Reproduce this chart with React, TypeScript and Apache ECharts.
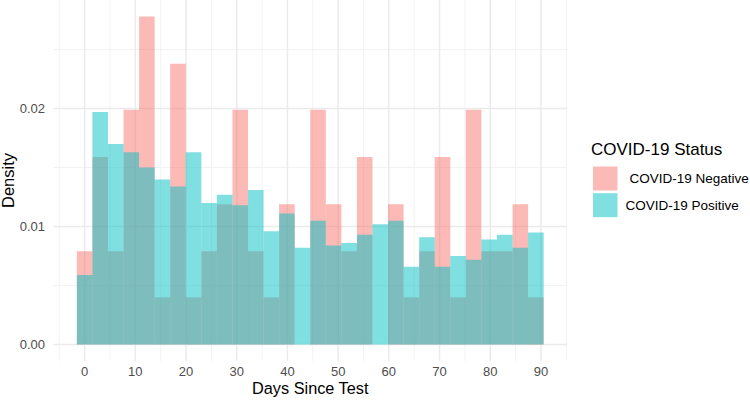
import React, { useEffect, useRef } from "react";
import * as echarts from "echarts";

// Histogram bin centres (days) and the common bin width
const binCenters = [
  0, 3.07, 6.14, 9.21, 12.28, 15.34, 18.41, 21.48, 24.55, 27.62,
  30.69, 33.76, 36.83, 39.9, 42.97, 46.03, 49.1, 52.17, 55.24, 58.31,
  61.38, 64.45, 67.52, 70.59, 73.66, 76.72, 79.79, 82.86, 85.93, 89,
];
const binWidth = 3.069;

// Density per bin for each test result
const negativeDensity = [
  0.0079, 0.0159, 0.0079, 0.0199, 0.0278, 0.004, 0.0238, 0.004, 0.0079, 0.0119,
  0.0199, 0.0079, 0.004, 0.0119, 0, 0.0199, 0.0119, 0.0079, 0.0159, 0,
  0.0119, 0.004, 0.0079, 0.0159, 0.004, 0.0199, 0.0079, 0.0079, 0.0119, 0.004,
];
const positiveDensity = [
  0.0059, 0.0197, 0.017, 0.0163, 0.015, 0.014, 0.0134, 0.0163, 0.012, 0.0127,
  0.0118, 0.0131, 0.0096, 0.0111, 0.0082, 0.0105, 0.0084, 0.0086, 0.0093, 0.0102,
  0.0105, 0.0066, 0.0091, 0.0066, 0.0075, 0.0072, 0.0089, 0.0093, 0.0082, 0.0095,
];

// Axis breaks
const xTicks = [0, 10, 20, 30, 40, 50, 60, 70, 80, 90];
const xMinorBreaks = [-5, 5, 15, 25, 35, 45, 55, 65, 75, 85, 95];
const yTicks = [0, 0.01, 0.02];
const yMinorBreaks = [0.005, 0.015, 0.025];

const xMin = -6.14;
const xMax = 95.14;
const yMin = -0.00139;
const yMax = 0.0292;

const FONT = "'Liberation Sans', Arial, Helvetica, sans-serif";
const NEG_FILL = "rgba(248,118,109,0.5)";
const POS_FILL = "rgba(0,191,196,0.5)";

function histItem(color: string) {
  return (params: any, api: any) => {
    const c = api.value(0);
    const v = api.value(1);
    const p0 = api.coord([c - binWidth / 2, v]);
    const p1 = api.coord([c + binWidth / 2, 0]);
    return {
      type: "rect",
      shape: { x: p0[0], y: p0[1], width: p1[0] - p0[0], height: p1[1] - p0[1] },
      style: { fill: color },
    };
  };
}

export default function App() {
  const ref = useRef<HTMLDivElement>(null);

  useEffect(() => {
    if (!ref.current) return;
    const chart = echarts.init(ref.current, null, { renderer: "svg" });

    // grid lines: kind 0 = x major, 1 = x minor, 2 = y major, 3 = y minor
    const gridData: number[][] = [
      ...xMinorBreaks.map((v) => [v, 1]),
      ...yMinorBreaks.map((v) => [v, 3]),
      ...xTicks.map((v) => [v, 0]),
      ...yTicks.map((v) => [v, 2]),
    ];

    chart.setOption({
      animation: false,
      textStyle: { fontFamily: FONT },
      grid: {
        left: 53.5,
        right: 183,
        top: 0,
        bottom: 39,
        containLabel: false,
        outerBoundsMode: "none",
      },
      title: {
        text: "COVID-19 Status",
        left: 591,
        top: 141,
        padding: 0,
        textStyle: { fontSize: 17, fontWeight: "normal", color: "#000", fontFamily: FONT },
      },
      legend: {
        data: ["COVID-19 Negative", "COVID-19 Positive"],
        orient: "vertical",
        left: 593,
        top: 166.5,
        padding: 0,
        icon: "rect",
        itemWidth: 24.5,
        itemHeight: 24,
        itemGap: 2.7,
        selectedMode: false,
        formatter: (name: string) =>
          name === "COVID-19 Negative" ? "{n|" + name + "}" : "{p|" + name + "}",
        textStyle: {
          fontSize: 13.5,
          color: "#000",
          fontFamily: FONT,
          rich: {
            n: { fontSize: 13.5, color: "#000", fontFamily: FONT, padding: [0, 0, 0, 7] },
            p: { fontSize: 13.5, color: "#000", fontFamily: FONT, padding: [0, 0, 0, 3] },
          },
        },
      },
      xAxis: {
        type: "value",
        min: xMin,
        max: xMax,
        name: "Days Since Test",
        nameLocation: "middle",
        nameGap: 19,
        nameMoveOverlap: false,
        nameTextStyle: { fontSize: 16.3, color: "#000", fontFamily: FONT },
        axisLine: { show: false },
        axisTick: { show: false },
        splitLine: { show: false },
        axisLabel: {
          customValues: xTicks,
          formatter: (v: number) => String(v),
          color: "#4D4D4D",
          fontSize: 13,
          margin: 4,
          fontFamily: FONT,
        },
      },
      yAxis: {
        type: "value",
        min: yMin,
        max: yMax,
        name: "Density",
        nameLocation: "middle",
        nameGap: 37,
        nameMoveOverlap: false,
        nameTextStyle: { fontSize: 16.5, color: "#000", fontFamily: FONT },
        axisLine: { show: false },
        axisTick: { show: false },
        splitLine: { show: false },
        axisLabel: {
          customValues: yTicks,
          formatter: (v: number) => v.toFixed(2),
          color: "#4D4D4D",
          fontSize: 13,
          margin: 8.5,
          fontFamily: FONT,
        },
      },
      series: [
        {
          type: "custom",
          name: "grid",
          silent: true,
          z: 1,
          data: gridData,
          renderItem: (params: any, api: any) => {
            const v = api.value(0);
            const kind = api.value(1);
            const vertical = kind === 0 || kind === 1;
            const a = vertical ? api.coord([v, yMin]) : api.coord([xMin, v]);
            const b = vertical ? api.coord([v, yMax]) : api.coord([xMax, v]);
            const major = kind === 0 || kind === 2;
            return {
              type: "line",
              shape: { x1: a[0], y1: a[1], x2: b[0], y2: b[1] },
              style: {
                stroke: major ? "#EBEBEB" : "#F2F2F2",
                lineWidth: major ? 1.5 : 1,
              },
            };
          },
        },
        {
          type: "custom",
          name: "COVID-19 Negative",
          z: 2,
          itemStyle: { color: NEG_FILL },
          data: binCenters.map((c, i) => [c, negativeDensity[i]]),
          renderItem: histItem(NEG_FILL),
        },
        {
          type: "custom",
          name: "COVID-19 Positive",
          z: 3,
          itemStyle: { color: POS_FILL },
          data: binCenters.map((c, i) => [c, positiveDensity[i]]),
          renderItem: histItem(POS_FILL),
        },
      ],
    });

    return () => chart.dispose();
  }, []);

  return (
    <div
      ref={ref}
      style={{ position: "fixed", left: 0, top: 0, width: 750, height: 400, background: "#fff" }}
    />
  );
}
